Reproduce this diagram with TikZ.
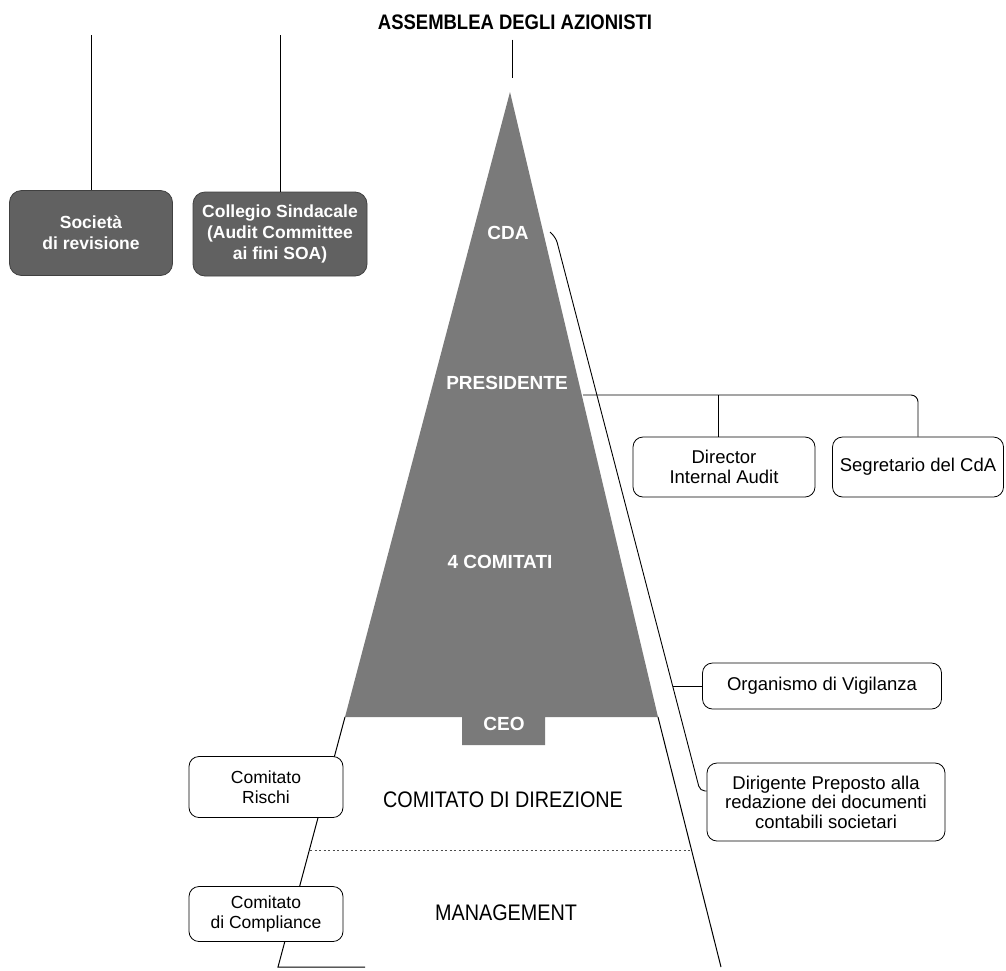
\documentclass[tikz,border=0pt]{standalone}
\usepackage{fontspec}
\setmainfont{Liberation Sans}
\newfontfamily\condfont[FakeStretch=0.88]{Liberation Sans}
\begin{document}
\begin{tikzpicture}[x=1pt,y=-1pt,
  wbox/.style={draw=black, line width=0.8pt, rounded corners=10pt, fill=white, align=center, inner sep=0pt, font=\fontsize{18.5}{20}\selectfont},
  dbox/.style={draw=black!75, line width=0.8pt, fill=black!62, rounded corners=12pt, text=white, align=center, font=\bfseries\fontsize{17.5}{21}\selectfont, inner sep=0pt},
  wlab/.style={text=white, font=\bfseries\fontsize{19}{22}\selectfont, inner sep=1pt},
  blab/.style={text=black, font=\condfont\fontsize{22.5}{26}\selectfont, inner sep=1pt},
  conn/.style={line width=0.9pt},
  trap/.style={line width=1pt},
]
\useasboundingbox (0,0) rectangle (1006,970);

% title
\node[font=\condfont\bfseries\fontsize{21}{24}\selectfont, inner sep=1pt] (title) at (515,22) {ASSEMBLEA DEGLI AZIONISTI};

% pyramid (grey)
\fill[black!52] (510,92) -- (658,717) -- (545,717) -- (545,745) -- (462,745) -- (462,717) -- (345,717) -- cycle;

% trapezoid outline
\coordinate (tl) at (345,717);
\coordinate (bl) at (278,967);
\coordinate (tr) at (658,717);
\coordinate (br) at (721,967);
\coordinate (bm) at (365,967);
\draw[trap] (tl) -- (bl) -- (bm);
\draw[trap] (tr) -- (br);
\coordinate (dl) at (310,850);
\coordinate (dr) at (690,850);
\draw[line width=0.6pt, black!70, dash pattern=on 2pt off 2.5pt] (dl) -- (dr);

% labels inside
\node[wlab] (cda) at (508,233) {CDA};
\node[wlab] (pres) at (507,383) {PRESIDENTE};
\node[wlab] (comitati) at (500,562) {4 COMITATI};
\node[wlab] (ceo) at (504,724) {CEO};
\node[blab] (cdd) at (503,800) {COMITATO DI DIREZIONE};
\node[blab] (mgmt) at (506,913) {MANAGEMENT};

% dark boxes
\node[dbox, minimum width=163pt, minimum height=85pt] (soc) at (91,233) {Società\\di revisione};
\node[dbox, minimum width=174pt, minimum height=84pt] (coll) at (280,234) {Collegio Sindacale\\(Audit Committee\\ai fini SOA)};
\coordinate (s1) at (91,35);
\coordinate (c1) at (280,35);
\draw[conn] (s1) -- (soc);
\draw[conn] (c1) -- (coll);

% apex line
\coordinate (apexl) at (512,78);
\draw[conn] ([yshift=-9pt]title.south -| apexl) -- (apexl);

% right boxes
\node[wbox, minimum width=182pt, minimum height=60pt] (dir) at (724,467) {Director\\Internal Audit};
\node[wbox, minimum width=171pt, minimum height=60pt] (seg) at (918,467) {Segretario del CdA};
\node[wbox, minimum width=239pt, minimum height=46pt] (org) at (822,686) {Organismo di Vigilanza};
\node[wbox, minimum width=238pt, minimum height=78pt, font=\fontsize{18.5}{19.5}\selectfont] (diri) at (826,802) {Dirigente Preposto alla\\redazione dei documenti\\contabili societari};

% left boxes
\node[wbox, minimum width=154pt, minimum height=61pt, font=\fontsize{17.5}{19.5}\selectfont] (risk) at (266,787) {Comitato\\Rischi};
\node[wbox, minimum width=154pt, minimum height=55pt, font=\fontsize{17.5}{19.5}\selectfont] (comp) at (266,914) {Comitato\\di Compliance};

% presidente connectors
\coordinate (presR) at (583,395);
\draw[conn, rounded corners=7pt] (presR) -- (seg.north |- presR) -- (seg.north);
\draw[conn] ([xshift=-6pt]dir.north |- presR) -- ([xshift=-6pt]dir.north);

% CdA bracket
\coordinate (cdaT) at (550,232);
\coordinate (cdaS) at (556,238);
\coordinate (cdaB) at (700,791);
\draw[conn, rounded corners=5pt] (cdaT) -- (cdaS) -- (cdaB) -- (diri.west |- cdaB);
\coordinate (orgL) at (673,686);
\draw[conn] (orgL) -- (org.west);

\end{tikzpicture}
\end{document}
